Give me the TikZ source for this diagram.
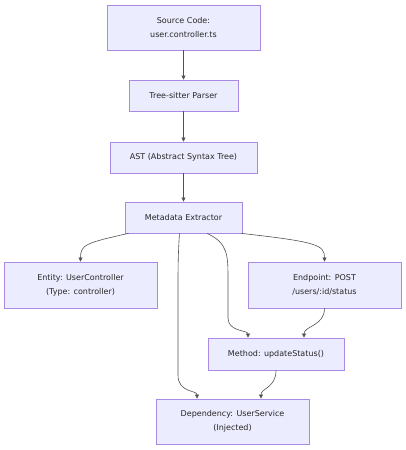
\documentclass[tikz,border=0pt]{standalone}
\usepackage{fontspec}
\setmainfont{DejaVu Sans}
\usetikzlibrary{arrows.meta, positioning, calc}
\definecolor{boxfill}{HTML}{ECECFF}
\definecolor{boxline}{HTML}{A98BE6}
\definecolor{edgeline}{HTML}{333333}

\begin{document}
\begin{tikzpicture}[x=1pt, y=-1pt,
    box/.style={draw=boxline, fill=boxfill, line width=0.8pt, align=center,
        font=\fontsize{8}{14}\selectfont, text=black!85, inner sep=0pt},
    flow/.style={draw=edgeline!85, line width=0.6pt, -{Triangle[length=4pt, width=4pt]}}]
    \useasboundingbox (0,0) rectangle (406,450);

    % pipeline
    \node[box, minimum width=153pt, minimum height=45pt] (src)    at (183.5, 27.5) {Source Code:\\user.controller.ts};
    \node[box, minimum width=109pt, minimum height=31pt] (parser) at (183.5, 95.5) {Tree-sitter Parser};
    \node[box, minimum width=147pt, minimum height=31pt] (ast)    at (183.5,157.5) {AST (Abstract Syntax Tree)};
    \node[box, minimum width=117pt, minimum height=31pt] (meta)   at (183.5,217.5) {Metadata Extractor};

    % extracted items
    \node[box, minimum width=153pt, minimum height=46pt] (entity) at ( 80.5,285)   {Entity: UserController\\(Type: controller)};
    \node[box, minimum width=153pt, minimum height=46pt] (endp)   at (324.5,285)   {Endpoint: POST\\/users/:id/status};
    \node[box, minimum width=136pt, minimum height=32pt] (meth)   at (276,  354)   {Method: updateStatus()};
    \node[box, minimum width=153pt, minimum height=45pt] (dep)    at (232.5,421.5) {Dependency: UserService\\(Injected)};

    \draw[flow] (src) -- (parser);
    \draw[flow] (parser) -- (ast);
    \draw[flow] (ast) -- (meta);

    \draw[flow] ([xshift=-55pt]meta.south) .. controls (85,243) and (80.5,245) .. (entity.north);
    \draw[flow] ([xshift=58pt]meta.south) .. controls (318,242) and (324.5,245) .. (endp.north);
    \draw[flow] ([xshift=23.5pt]meta.south) .. controls (228,243) and (228,255) .. (228,280)
        -- (228,318) .. controls (228,332) and (248,330) .. ([xshift=-28pt]meth.north);
    \draw[flow] ([xshift=-4pt]meta.south) .. controls (178,255) and (178,270) .. (178,290)
        -- (178,375) .. controls (178,393) and (197,390) .. ([xshift=-35.5pt]dep.north);
    \draw[flow] (endp.south) .. controls (324.5,326) and (304,326) .. ([xshift=28pt]meth.north);
    \draw[flow] (meth.south) .. controls (276,388) and (261,388) .. ([xshift=28.5pt]dep.north);
\end{tikzpicture}
\end{document}
